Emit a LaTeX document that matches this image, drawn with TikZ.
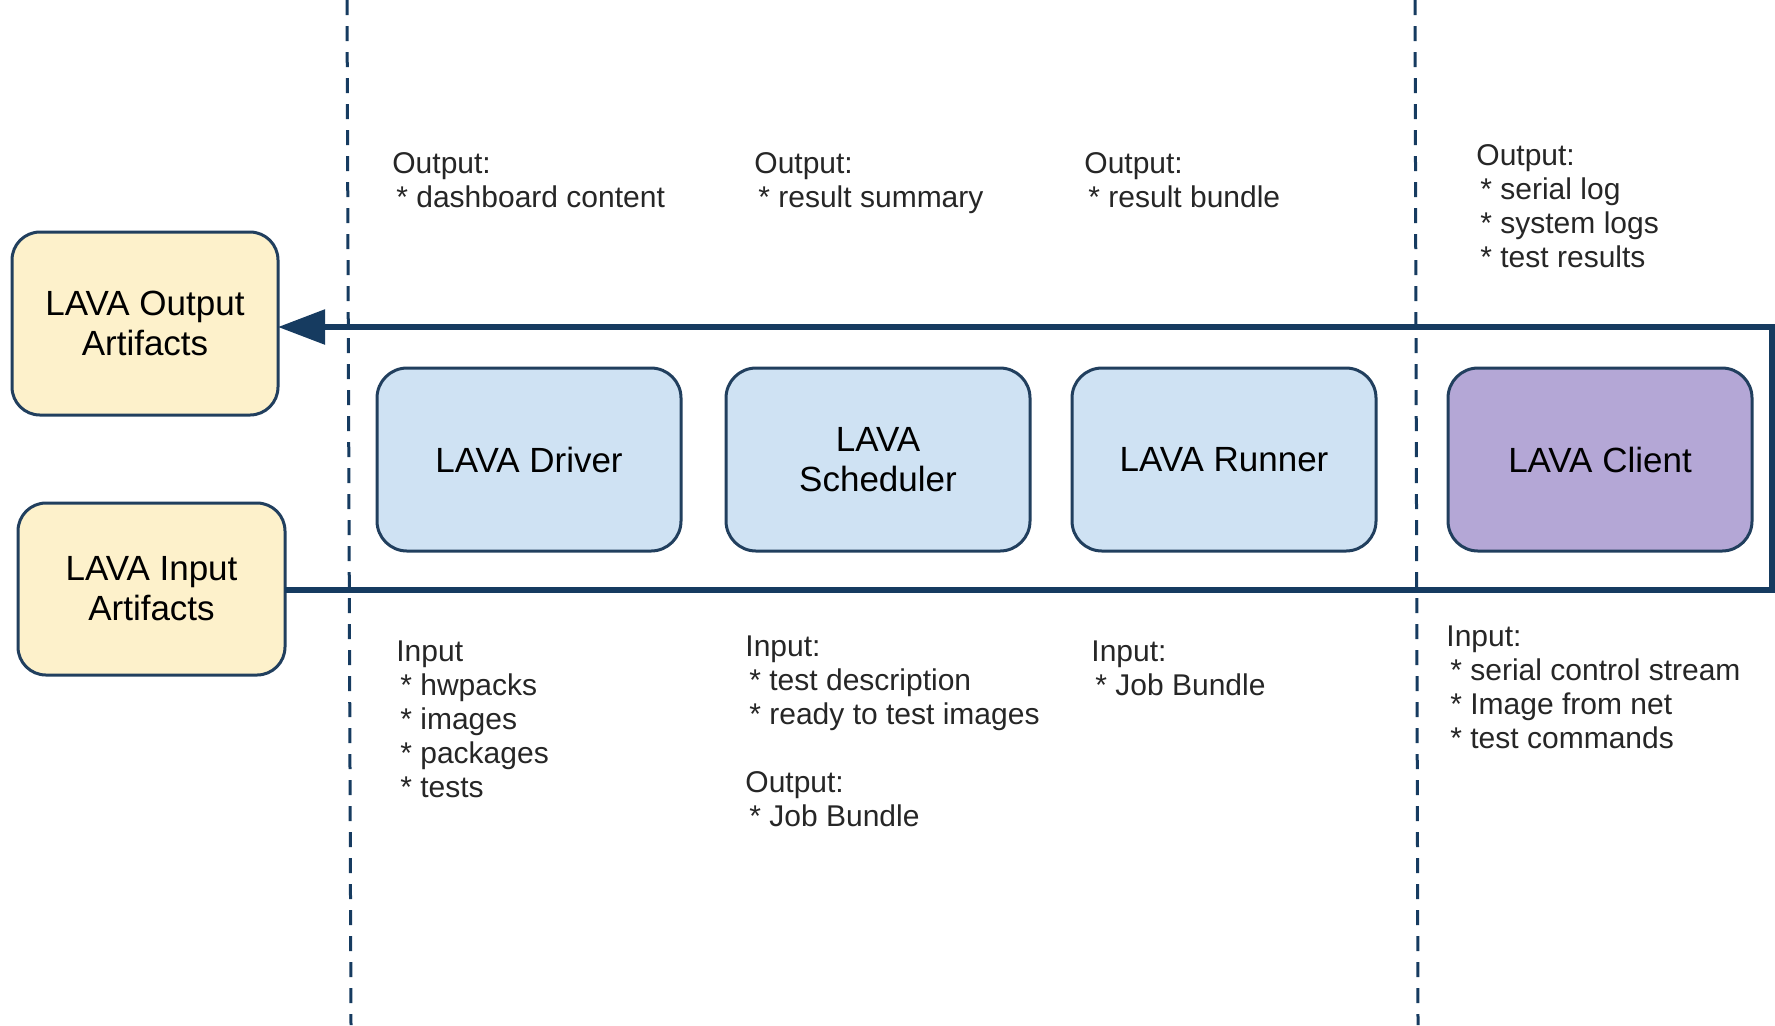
\documentclass[tikz,border=0pt]{standalone}
\usepackage{fontspec}
\setmainfont{Liberation Sans}
\usetikzlibrary{arrows.meta,positioning}
\definecolor{navy}{HTML}{163B60}
\definecolor{boxline}{HTML}{213F5E}
\definecolor{artfill}{HTML}{FDF1CB}
\definecolor{toolfill}{HTML}{CFE2F3}
\definecolor{clientfill}{HTML}{B4A7D6}
\tikzstyle{artbox} = [draw=boxline, fill=artfill, line width=1.5pt, rectangle, rounded corners=14pt, outer sep=0pt, align=center, font=\titlefont, minimum width=133pt]
\tikzstyle{toolbox} = [draw=boxline, fill=toolfill, line width=1.5pt, rectangle, rounded corners=15pt, outer sep=0pt, align=center, font=\titlefont, minimum width=152pt, minimum height=91.5pt]
\tikzstyle{note} = [anchor=north west, inner sep=0pt, align=left, font=\notefont, text=black!85]
\tikzstyle{flow} = [draw=navy, line width=2.8pt]
\tikzstyle{lane} = [draw=navy, line width=1.5pt, dash pattern=on 7.5pt off 5.5pt]
\newcommand{\titlefont}{\fontsize{17.5}{20}\selectfont}
\newcommand{\notefont}{\fontsize{15}{17}\selectfont}
\newcommand{\itm}[1]{\hspace*{2pt}* #1}

\begin{document}
\begin{tikzpicture}[x=0.5pt, y=-0.5pt]
\useasboundingbox (0,0) rectangle (1775,1025);
% swim lanes
\draw[lane] (347,0) -- (351,1025);
\draw[lane] (1415,0) -- (1418,1025);
% artifacts
\node[artbox, minimum height=91.5pt] (outart) at (145,323.5) {LAVA Output\\Artifacts};
\node[artbox, minimum width=133.5pt, minimum height=86pt] (inart) at (151.5,589) {LAVA Input\\Artifacts};
% components
\node[toolbox] (driver) at (529,459.5) {LAVA Driver};
\node[toolbox, right=22.5pt of driver] (sched) {LAVA\\Scheduler};
\node[toolbox, right=21pt of sched] (runner) {LAVA Runner};
\node[toolbox, fill=clientfill, right=36pt of runner] (client) {LAVA Client};
% artifact loop
\coordinate (tr) at (1772,327);
\coordinate (br) at (1772,590);
\draw[flow, -{Triangle[length=23.5pt,width=17pt]}] (inart.east |- br) -- (br) -- (tr) -- (outart.east |- tr);
% outputs
\node[note] (drvout) at (392,152) {Output:\\\itm{dashboard content}};
\node[note] (schout) at (754,152) {Output:\\\itm{result summary}};
\node[note] (runout) at (1084,152) {Output:\\\itm{result bundle}};
\node[note] (cliout) at (1476,144) {Output:\\\itm{serial log}\\\itm{system logs}\\\itm{test results}};
% inputs
\node[note] (drvin) at (396,640) {Input\\\itm{hwpacks}\\\itm{images}\\\itm{packages}\\\itm{tests}};
\node[note] (schin) at (745,635) {Input:\\\itm{test description}\\\itm{ready to test images}\\[17pt]Output:\\\itm{Job Bundle}};
\node[note] (runin) at (1091,640) {Input:\\\itm{Job Bundle}};
\node[note] (cliin) at (1446,625) {Input:\\\itm{serial control stream}\\\itm{Image from net}\\\itm{test commands}};
\end{tikzpicture}
\end{document}
